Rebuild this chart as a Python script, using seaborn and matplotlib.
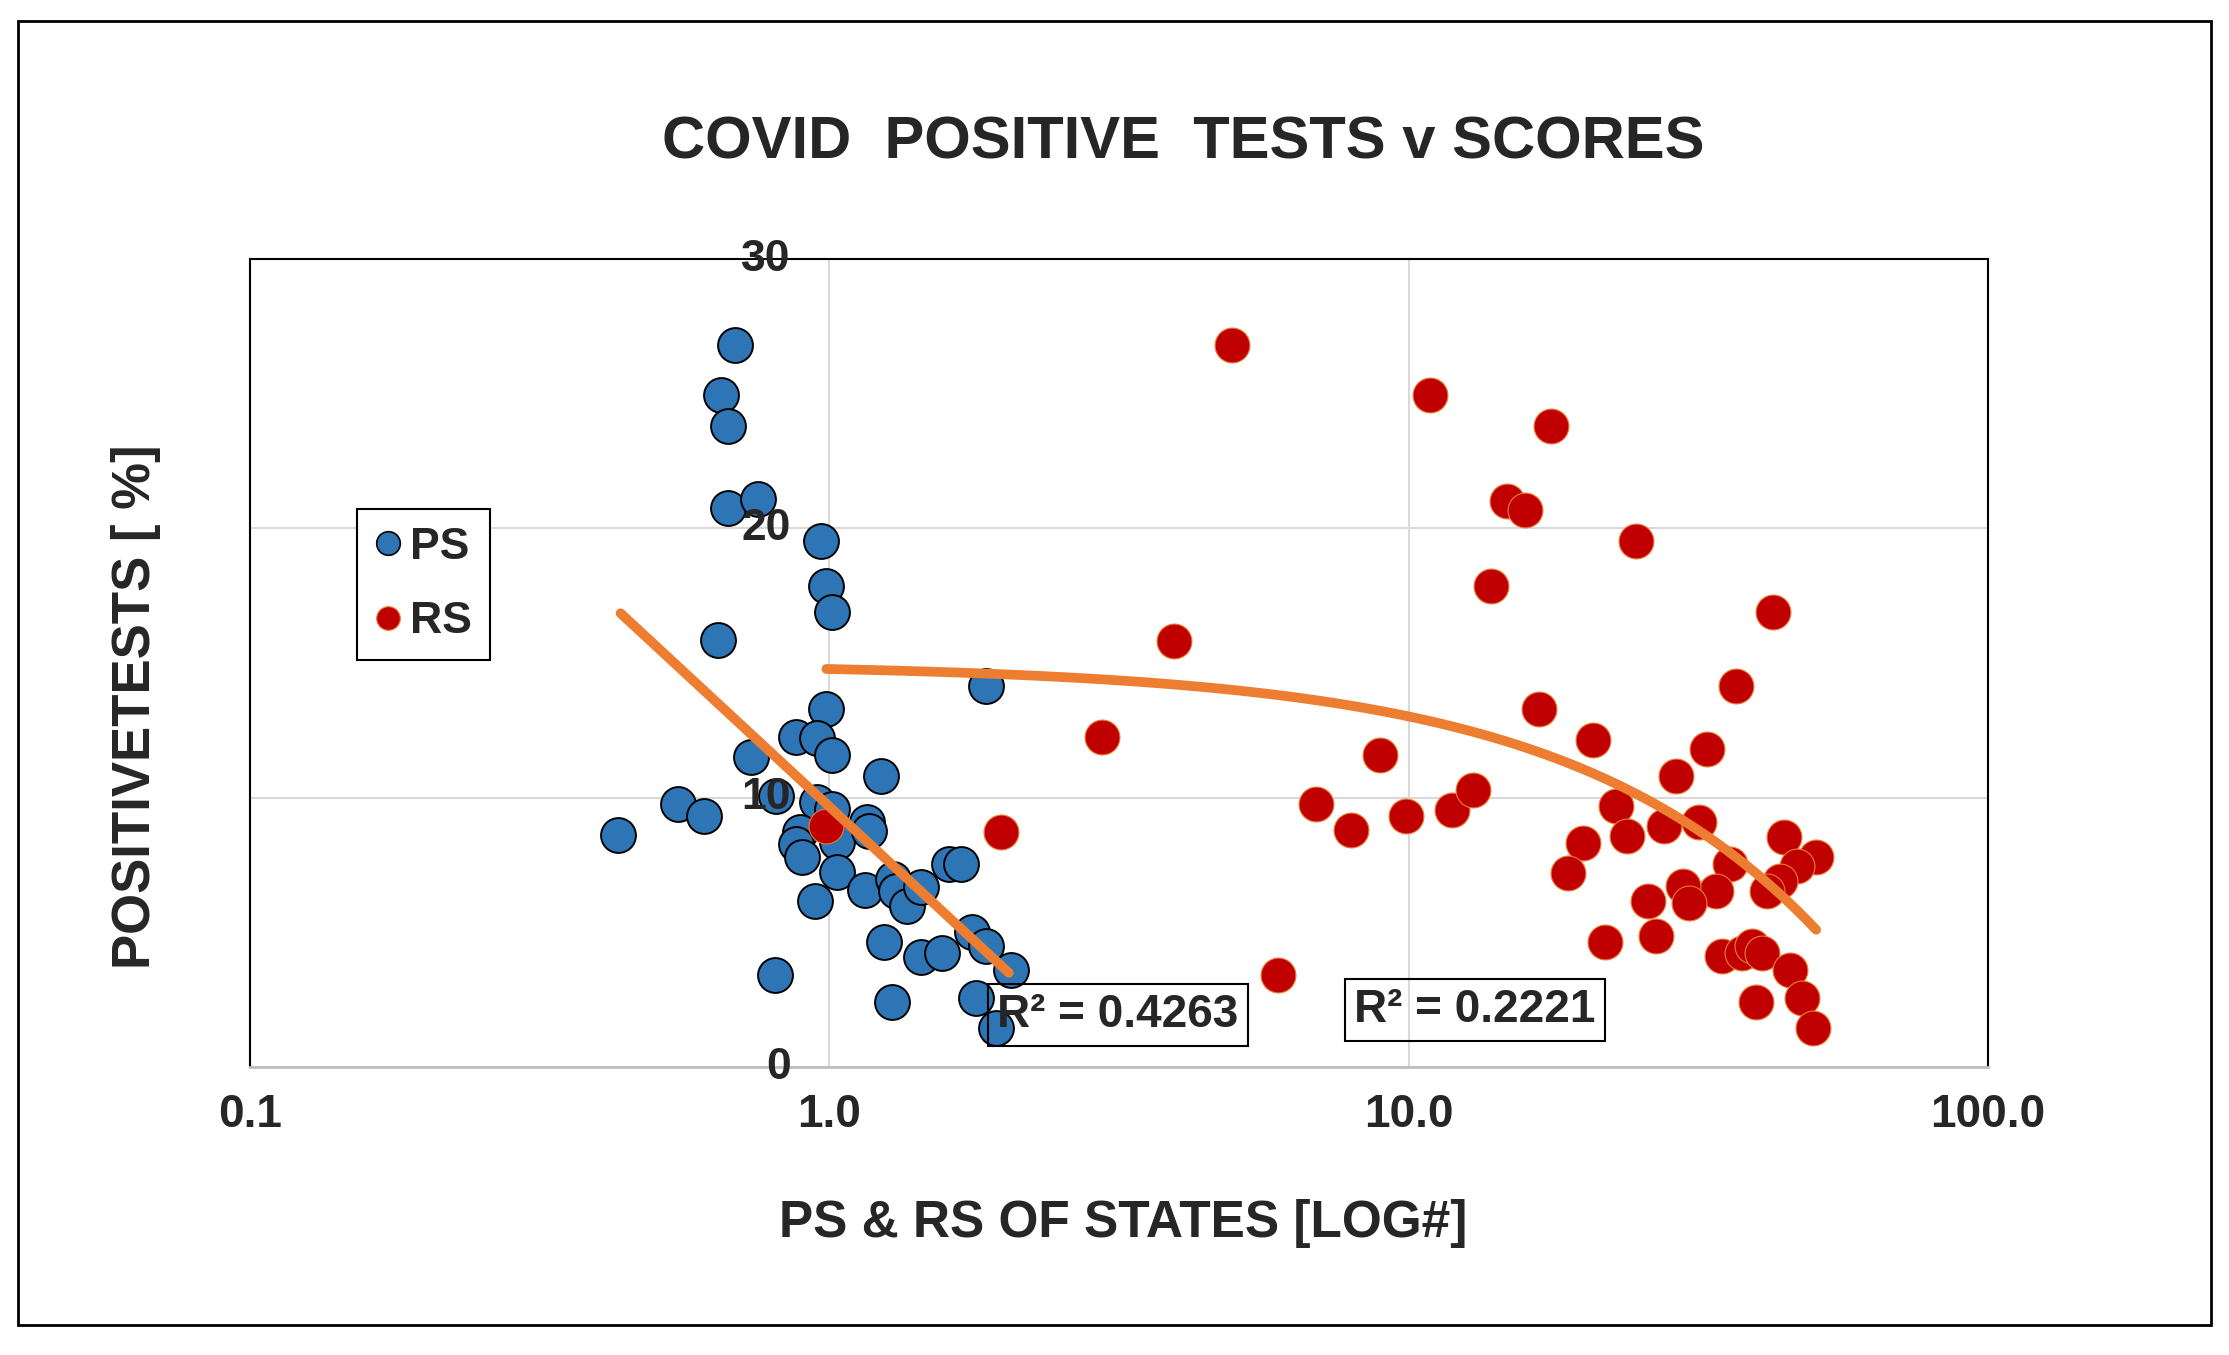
import numpy as np
import pandas as pd
import matplotlib
matplotlib.use("Agg")
import matplotlib.pyplot as plt
import seaborn as sns
from matplotlib.lines import Line2D
from matplotlib.patches import Rectangle
from matplotlib.ticker import NullLocator

"""data read off the chart"""
ps_x = [0.688, 0.651, 0.667, 0.667, 0.754, 0.969, 0.988, 1.012, 0.643, 1.867,
        0.988, 0.874, 0.95, 1.012, 0.733, 1.23, 0.548, 0.608, 0.432, 0.81,
        0.95, 1.01, 0.888, 0.877, 0.895, 1.032, 1.163, 1.17, 1.03, 0.946,
        1.154, 1.285, 1.305, 1.36, 1.44, 1.61, 1.69, 1.24, 1.44, 1.567,
        1.76, 1.867, 2.06, 0.807, 1.28, 1.794, 1.94]
ps_y = [26.8, 24.96, 23.8, 20.75, 21.1, 19.55, 17.87, 16.9, 15.86, 14.14,
        13.28, 12.24, 12.2, 11.57, 11.53, 10.82, 9.78, 9.33, 8.62, 10.07,
        9.85, 9.6, 8.73, 8.28, 7.8, 8.36, 9.1, 8.77, 7.24, 6.16,
        6.57, 6.98, 6.53, 5.97, 6.68, 7.54, 7.54, 4.66, 4.1, 4.25,
        5.0, 4.48, 3.62, 3.4, 2.43, 2.57, 1.46]
rs_x = [4.95, 10.9, 17.6, 14.8, 15.9, 13.86, 3.94, 16.8, 2.96, 8.91,
        6.93, 7.94, 9.88, 11.9, 12.9, 5.95, 24.7, 42.5, 36.7, 20.8,
        32.7, 28.9, 22.8, 20.0, 18.8, 23.8, 27.6, 31.7, 35.8, 44.4,
        50.5, 46.8, 43.7, 41.5, 33.9, 29.7, 30.5, 25.9, 26.7, 21.8,
        34.7, 37.6, 39.1, 40.7, 45.5, 39.7, 47.7, 49.9, 0.988, 1.98]
rs_y = [26.8, 24.96, 23.8, 21.0, 20.7, 17.87, 15.82, 13.28, 12.24, 11.6,
        9.75, 8.81, 9.33, 9.55, 10.3, 3.4, 19.55, 16.9, 14.14, 12.13,
        11.8, 10.82, 9.7, 8.32, 7.2, 8.58, 8.96, 9.1, 7.54, 8.54,
        7.8, 7.46, 6.9, 6.53, 6.53, 6.72, 6.08, 6.16, 4.85, 4.66,
        4.14, 4.25, 4.48, 4.25, 3.62, 2.43, 2.57, 1.46, 8.96, 8.73]

# PS trendline (log fit -> straight on the log axis), end points
ps_trend_x = [0.436, 2.04]
ps_trend_y = [16.85, 3.5]

series_names = ["PS", "RS"]
x_ticks = [0.1, 1, 10, 100]
x_tick_labels = ["0.1", "1.0", "10.0", "100.0"]
y_ticks = [0, 10, 20, 30]
y_tick_labels = ["0", "10", "20", "30"]
r2_labels = ["R² = 0.4263", "R² = 0.2221"]

df = pd.concat([
    pd.DataFrame({"score": ps_x, "positive": ps_y, "series": "PS"}),
    pd.DataFrame({"score": rs_x, "positive": rs_y, "series": "RS"}),
], ignore_index=True)

blue = "#2E75B6"
red = "#C00000"
orange = "#ED7D31"

sns.set_style("white")
plt.rcParams["font.family"] = ["Liberation Sans", "DejaVu Sans"]
plt.rcParams["font.weight"] = "bold"

fig = plt.figure(figsize=(22.29, 13.55), dpi=100)
ax = fig.add_axes([0.1122, 0.2125, 0.7797, 0.5963])

"""scatter points"""
sns.scatterplot(data=df[df.series == "PS"], x="score", y="positive", color=blue,
                s=630, edgecolor="black", linewidth=1.4, ax=ax, legend=False, zorder=3)
sns.scatterplot(data=df[df.series == "RS"], x="score", y="positive", color=red,
                s=630, edgecolor=orange, linewidth=0.8, ax=ax, legend=False, zorder=3)

"""trendlines"""
ax.plot(ps_trend_x, ps_trend_y, color=orange, lw=7, solid_capstyle="round", zorder=4)
# RS: linear fit in x (curves on the log axis)
rs_coef = np.polyfit(rs_x, rs_y, 1)
xs_rs = np.geomspace(min(rs_x), max(rs_x), 100)
ax.plot(xs_rs, np.polyval(rs_coef, xs_rs), color=orange, lw=7,
        solid_capstyle="round", zorder=4)

"""axes"""
ax.set_xscale("log")
ax.set_xlim(0.1, 100)
ax.set_ylim(0, 30)
ax.set_xticks(x_ticks)
ax.set_xticklabels(x_tick_labels, fontsize=33, fontweight="bold")
ax.xaxis.set_minor_locator(NullLocator())
ax.set_yticks(y_ticks)
ax.set_yticklabels([])
ax.tick_params(axis="both", length=0)
ax.tick_params(axis="x", pad=19)
ax.grid(True, color="#D9D9D9", lw=1.5)
ax.set_axisbelow(True)
for side in ["top", "left", "right"]:
    ax.spines[side].set_color("black")
    ax.spines[side].set_linewidth(1.5)
ax.spines["bottom"].set_color("#BFBFBF")
ax.spines["bottom"].set_linewidth(2)

"""y tick labels sit next to the x=1 line"""
for v, lab in zip(y_ticks, y_tick_labels):
    ax.annotate(lab, xy=(1, v), xytext=(-28, 0), textcoords="offset points",
                ha="right", va="center", fontsize=32, fontweight="bold", zorder=6)

ax.set_xlabel("PS & RS OF STATES [LOG#]", fontsize=37, fontweight="bold", va="center")
ax.xaxis.set_label_coords(0.5023, -0.193)
ax.set_ylabel("POSITIVETESTS [ %]", fontsize=38, fontweight="bold", va="center")
ax.yaxis.set_label_coords(-0.0656, 0.4455)
ax.text(0.5368, 1.1436, "COVID  POSITIVE  TESTS v SCORES", transform=ax.transAxes,
        ha="center", va="center", fontsize=43, fontweight="bold", color="#262626")

"""R squared boxes"""
for (bx, by), lab in zip([(0.4994, 0.0644), (0.7048, 0.0705)], r2_labels):
    ax.text(bx, by, lab, transform=ax.transAxes, ha="center", va="center",
            fontsize=33, fontweight="bold", zorder=5,
            bbox=dict(boxstyle="square,pad=0.2", fc="none", ec="black", lw=1.5))

"""legend"""
handles = [
    Line2D([], [], ls="none", marker="o", ms=17, mfc=blue, mec="black", mew=1.2),
    Line2D([], [], ls="none", marker="o", ms=17, mfc=red, mec=orange, mew=0.8),
]
leg = ax.legend(handles, series_names, loc="upper left", bbox_to_anchor=(0.0616, 0.6906),
                frameon=True, fancybox=False, edgecolor="black", framealpha=1,
                borderpad=0.4, handlelength=0.6, handletextpad=0.2, labelspacing=0.75,
                borderaxespad=0, prop={"weight": "bold", "size": 32})
leg.get_frame().set_linewidth(1.5)

"""outer frame"""
fig.patches.append(Rectangle((0.00808, 0.02214), 0.9839, 0.9624, transform=fig.transFigure,
                             fill=False, ec="black", lw=2))

fig.savefig("out.png", dpi=100)
